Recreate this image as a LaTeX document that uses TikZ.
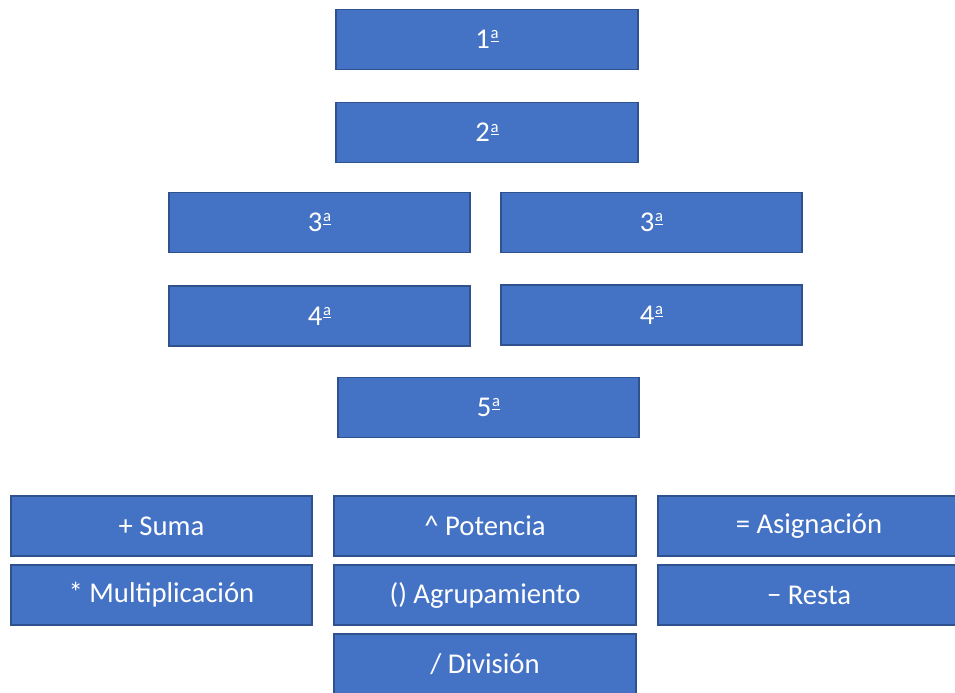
\documentclass[tikz,border=0pt]{standalone}
\usepackage{fontspec}
\setmainfont{Carlito}
\definecolor{boxfill}{HTML}{4472C4}
\definecolor{boxline}{HTML}{2F528F}
\newcommand{\ordinal}[1]{#1\kern0.5pt\raisebox{0.34em}{\fontsize{12.5}{13}\selectfont\underline{a}}}
\begin{document}
\begin{tikzpicture}[
    x=0.75pt,
    y=-0.75pt,
    level/.style={
        rectangle,
        draw=boxline,
        fill=boxfill,
        line width=1.4pt,
        minimum width=226pt,
        minimum height=45pt,
        inner sep=0pt,
        text=white,
        font=\fontsize{21.5}{26}\selectfont
    }
    ]
    \useasboundingbox (0,0) rectangle (955,692);

    % order of evaluation
    \node[level] (FIRST)  at (487,39.5) {\ordinal{1}};
    \node[level] (SECOND) at (487,132.5) {\ordinal{2}};
    \node[level] (THIRDL) at (319.5,222.5) {\ordinal{3}};
    \node[level] (THIRDR) at (651.5,222.5) {\ordinal{3}};
    \node[level] (FOURTHL) at (319.5,316) {\ordinal{4}};
    \node[level] (FOURTHR) at (651.5,315) {\ordinal{4}};
    \node[level] (FIFTH)  at (488.5,407.5) {\ordinal{5}};

    % operators
    \node[level] (SUM)  at (161.5,526) {+ Suma};
    \node[level] (MUL)  at (161.5,595) {* Multiplicación};
    \node[level] (POW)  at (485,526) {\^{} Potencia};
    \node[level] (GRP)  at (485,595) {() Agrupamiento};
    \node[level] (DIV)  at (485,664) {/ División};
    \node[level] (ASG)  at (809,526) {= Asignación};
    \node[level] (SUB)  at (809,595) {− Resta};
\end{tikzpicture}
\end{document}
